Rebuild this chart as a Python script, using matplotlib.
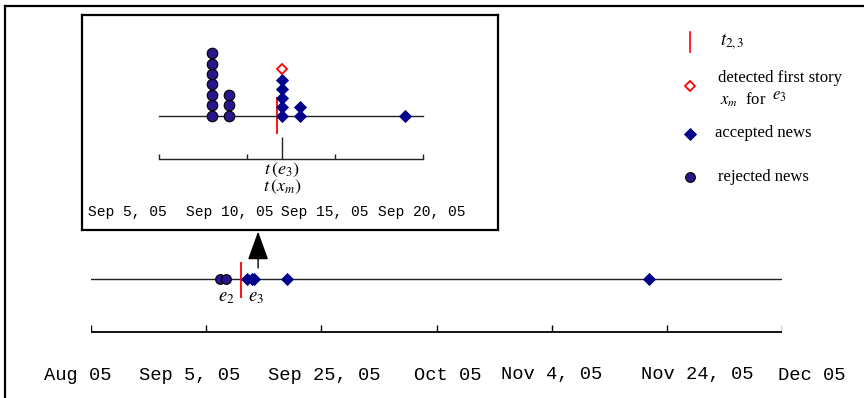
import matplotlib
matplotlib.use("Agg")
import matplotlib.pyplot as plt

plt.rcParams['mathtext.fontset'] = 'stix'
plt.rcParams['font.family'] = 'Liberation Serif'

# ---- main timeline data (days from Aug 1, 2005) ----
main_ticks = [0, 20.33, 40.67, 61, 81.33, 101.67, 122]
main_labels = ['Aug 05', 'Sep 5, 05', 'Sep 25, 05', 'Oct 05', 'Nov 4, 05', 'Nov 24, 05', 'Dec 05']
main_label_pos = [-2.3, 17.5, 41.1, 62.9, 81.4, 107.0, 127.3]
main_rejected = [22.8, 23.8]
main_accepted = [27.5, 28.4, 28.8, 34.6, 98.5]
main_boundary = 26.4
zoom_day = 29.5

# ---- inset data (days from Sep 5, 2005) ----
inset_ticks = [0, 5, 10, 15]
inset_labels = ['Sep 5, 05', 'Sep 10, 05', 'Sep 15, 05', 'Sep 20, 05']
inset_label_pos = [-1.8, 4.0, 9.4, 14.9]
inset_rej_days = [3, 4]
inset_rej_counts = [7, 3]
inset_acc_days = [7, 8, 14]
inset_acc_counts = [5, 2, 1]
detected_day = 7
inset_boundary = 6.7

circ_col = '#2a168c'
dia_col = '#00008b'
acc_step = 0.86  # diamonds are stacked a bit tighter than circles

fig = plt.figure(figsize=(8.64, 3.98), dpi=100)

# overlay in pixel units for the frame and legend
lax = fig.add_axes([0, 0, 1, 1])
lax.set_xlim(0, 864)
lax.set_ylim(398, 0)
lax.axis('off')
lax.plot([5, 5], [6, 398], color='k', lw=1.6)
lax.plot([5, 864], [6, 6], color='k', lw=1.6)

# legend
lax.plot([690, 690], [32, 52], color='red', lw=1.2)
lax.text(720, 42, r'$t_{2,3}$', fontsize=13.5, va='center')
lax.plot(690, 86, 'D', ms=5.4, mfc='white', mec='red', mew=1.3)
lax.text(718, 78, 'detected first story', fontsize=12, va='center')
lax.text(720, 100, r'$x_m$  for', fontsize=12, va='center')
lax.text(772, 96, r'$e_3$', fontsize=12, va='center')
lax.plot(690, 134, 'D', ms=6.2, color=dia_col, mec=dia_col, mew=0.6)
lax.text(715, 133, 'accepted news', fontsize=12, va='center')
lax.plot(690, 177, 'o', ms=7.0, mfc=circ_col, mec='k', mew=0.8)
lax.text(718, 177, 'rejected news', fontsize=12, va='center')

# ---- main timeline axes (y in px relative to the timeline) ----
ax = fig.add_axes([91 / 864, 0, 691 / 864, 158 / 398])
ax.set_xlim(0, 122)
ax.set_ylim(-119, 39)
ax.axis('off')
ax.plot([0, 122], [0, 0], color='#222222', lw=1.0)
ax.plot([0, 122], [-53, -53], color='k', lw=1.3)
ax.vlines(main_ticks, -53, -46, color='k', lw=1.0)
for p, lab in zip(main_label_pos, main_labels):
    ax.text(p, -96, lab, fontsize=13.5, family='Liberation Mono',
            ha='center', va='center')
ax.vlines(main_boundary, -19, 17, color='red', lw=1.3)
ax.plot(main_rejected, [0] * len(main_rejected), 'o', ms=7.0,
        mfc=circ_col, mec='k', mew=0.8)
ax.plot(main_accepted, [0] * len(main_accepted), 'D', ms=6.0,
        color=dia_col, mec=dia_col, mew=0.6)
ax.text(main_rejected[1] + 0.1, -18, r'$e_2$', fontsize=13.5, ha='center', va='center')
ax.text(zoom_day - 0.4, -18, r'$e_3$', fontsize=13.5, ha='center', va='center')
ax.annotate('', xy=(zoom_day, 47.5), xytext=(zoom_day, 11),
            arrowprops=dict(arrowstyle='-|>,head_width=0.65,head_length=1.8',
                            color='k', lw=1.0, shrinkA=0, shrinkB=0),
            annotation_clip=False)

# ---- inset axes (y in stack units) ----
iax = fig.add_axes([82 / 864, (398 - 230) / 398, 416 / 864, 215 / 398])
iax.set_xlim(-4.375, 19.26)
iax.set_ylim(-10.86, 9.62)
iax.set_xticks([])
iax.set_yticks([])
for s in iax.spines.values():
    s.set_linewidth(1.6)
iax.plot([0, 15], [0, 0], color='#222222', lw=1.0)
iax.plot([0, 15], [-4.1, -4.1], color='#222222', lw=1.0)
iax.vlines(inset_ticks, -4.1, -3.6, color='#222222', lw=1.0)
iax.vlines(detected_day, -4.1, -2.0, color='#222222', lw=1.0)
iax.vlines(inset_boundary, -1.7, 1.8, color='red', lw=1.3)
for d, n in zip(inset_rej_days, inset_rej_counts):
    iax.plot([d] * n, list(range(n)), 'o', ms=7.6, mfc=circ_col, mec='k', mew=0.8)
for d, n in zip(inset_acc_days, inset_acc_counts):
    iax.plot([d] * n, [i * acc_step for i in range(n)], 'D', ms=6.4,
             color=dia_col, mec=dia_col, mew=0.6)
iax.plot(detected_day, inset_acc_counts[0] * acc_step + 0.15, 'D', ms=5.2,
         mfc='white', mec='red', mew=1.3)
iax.text(detected_day, -5.15, r'$t\,(e_3)$', fontsize=13, ha='center', va='center')
iax.text(detected_day, -6.75, r'$t\,(x_m)$', fontsize=13, ha='center', va='center')
for p, lab in zip(inset_label_pos, inset_labels):
    iax.text(p, -9.15, lab, fontsize=10.5, family='Liberation Mono',
             ha='center', va='center')

fig.savefig('out.png', dpi=100)
